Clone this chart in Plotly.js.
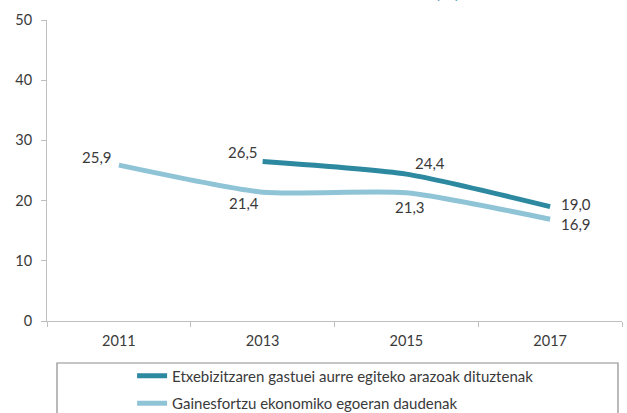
<!DOCTYPE html>
<html>
<head>
<meta charset="utf-8">
<script src="https://cdn.plot.ly/plotly-3.0.1.min.js"></script>
<style>html,body{margin:0;padding:0;background:#fff;}#chart{width:627px;height:413px;}</style>
</head>
<body>
<div id="chart"></div>
<script>
const years = ["2011", "2013", "2015", "2017"];
const seriesNames = ["Etxebizitzaren gastuei aurre egiteko arazoak dituztenak", "Gainesfortzu ekonomiko egoeran daudenak"];
const housingCosts = [null, 26.5, 24.4, 19.0];
const overEffort = [25.9, 21.4, 21.3, 16.9];
const yTicks = [0, 10, 20, 30, 40, 50];
const titleText = "(%)";

const darkColor = "#2c89a0";
const lightColor = "#8fc4d6";
const textColor = "#3a3a3a";
const fontFam = "Lato, 'Open Sans', sans-serif";

function fmt(v) { return v.toFixed(1).replace(".", ","); }

const traces = [
  {x: years, y: housingCosts, name: seriesNames[0], type: "scatter", mode: "lines",
   line: {color: darkColor, width: 5, shape: "spline", smoothing: 0.6}, connectgaps: false, legendgroup: "a"},
  {x: years, y: overEffort, name: seriesNames[1], type: "scatter", mode: "lines",
   line: {color: lightColor, width: 5, shape: "spline", smoothing: 0.6}, legendgroup: "b"}
];

// label offsets (px) per point
const darkOff = [null, [-20, 9], [24, 11], [26, 3]];
const lightOff = [[-22, 8], [-19, -11], [4, -14], [26, -5]];

const annotations = [];
for (let i = 0; i < years.length; i++) {
  if (housingCosts[i] !== null) {
    annotations.push({x: i, y: housingCosts[i], xref: "x", yref: "y", text: fmt(housingCosts[i]),
      showarrow: false, xshift: darkOff[i][0], yshift: darkOff[i][1],
      font: {family: fontFam, size: 15, color: textColor}});
  }
  annotations.push({x: i, y: overEffort[i], xref: "x", yref: "y", text: fmt(overEffort[i]),
    showarrow: false, xshift: lightOff[i][0], yshift: lightOff[i][1],
    font: {family: fontFam, size: 15, color: textColor}});
}
annotations.push({x: 0.722, y: 1.053, xref: "paper", yref: "paper", yanchor: "bottom", text: "<b>" + titleText + "</b>",
  showarrow: false, font: {family: fontFam, size: 18, color: "#3a8ea0"}});

const layout = {
  width: 627, height: 413,
  margin: {l: 47, r: 5, t: 20, b: 92, pad: 0, autoexpand: false},
  paper_bgcolor: "#fff", plot_bgcolor: "#fff",
  font: {family: fontFam, color: textColor, size: 14},
  showlegend: true,
  legend: {x: 0.148, y: -0.128, xanchor: "left", yanchor: "top", orientation: "v",
    font: {family: fontFam, size: 15, color: textColor}, bgcolor: "rgba(0,0,0,0)",
    tracegroupgap: 5, itemwidth: 30},
  xaxis: {type: "category", range: [-0.5, 3.5], showgrid: false, zeroline: false,
    showline: true, linecolor: "#bfbfbf", linewidth: 1, ticks: "outside", tickson: "boundaries",
    ticklen: 5, tickcolor: "#bfbfbf", ticklabelstandoff: 7,
    tickfont: {family: fontFam, size: 14.5, color: textColor}, fixedrange: true},
  yaxis: {range: [0, 50], tickvals: yTicks, ticktext: yTicks.map(String), showgrid: false, zeroline: false,
    showline: true, linecolor: "#bfbfbf", linewidth: 1, ticks: "outside", ticklen: 5, tickcolor: "#bfbfbf",
    tickfont: {family: fontFam, size: 14.5, color: textColor}, ticklabelstandoff: 6, fixedrange: true},
  shapes: [{type: "rect", xref: "paper", yref: "paper", x0: 0.0174, x1: 0.993, y0: -0.1395, y1: -0.5,
    line: {color: "#8c8c8c", width: 1.2}, fillcolor: "rgba(0,0,0,0)", layer: "above"}],
  annotations: annotations
};

Plotly.newPlot("chart", traces, layout, {displayModeBar: false, staticPlot: true});
</script>
</body>
</html>
